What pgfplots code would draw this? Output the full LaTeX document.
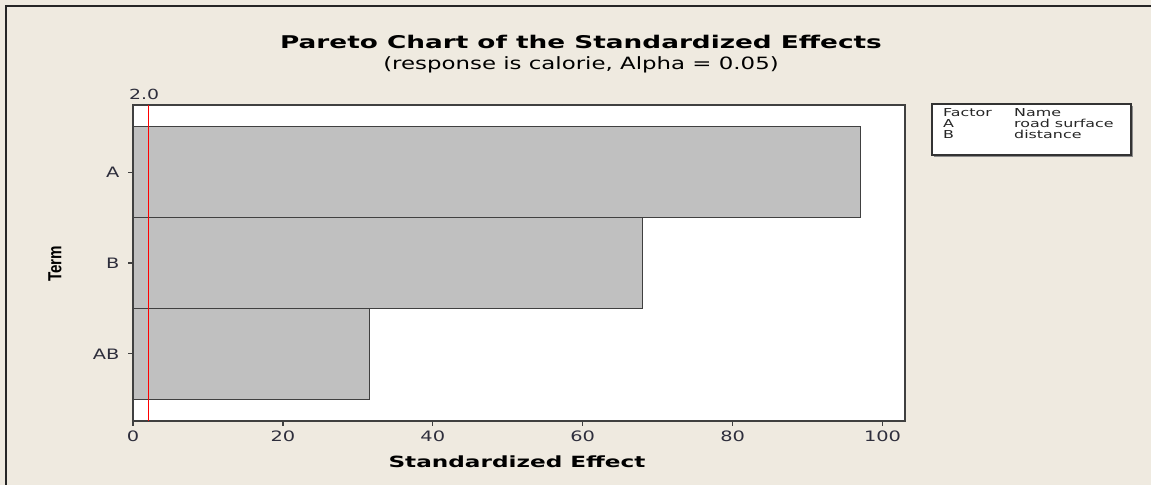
\documentclass[border=0pt]{standalone}
\usepackage{fontspec}
\setmainfont{DejaVu Sans}[FakeStretch=1.35]
\newfontfamily\bfam{DejaVu Sans}[FakeStretch=1.5]
\newfontfamily\legfam{DejaVu Sans}[FakeStretch=1.45]
\newfontfamily\termfont{Liberation Sans}
\usepackage{graphicx}
\usepackage{pgfplots}
\pgfplotsset{compat=1.18}
\definecolor{bg}{HTML}{EFEAE0}
\definecolor{barg}{HTML}{C0C0C0}
\definecolor{tickc}{HTML}{2E2E3C}
\begin{document}
\begin{tikzpicture}
\useasboundingbox (0,0) rectangle (1151bp,485bp);
\fill[bg] (-6bp,-6bp) rectangle (1160bp,492bp);
\draw[black!85, line width=2bp] (6bp,-3bp) -- (6bp,479bp);
\draw[black!85, line width=2bp] (5bp,479bp) -- (1140bp,479bp);
\fill[black!85] (1140bp,478bp) rectangle (1151bp,480bp);
\begin{axis}[
  at={(133bp,64bp)}, anchor=south west,
  scale only axis, width=772bp, height=316bp,
  xmin=0, xmax=103, ymin=-0.74, ymax=2.74,
  ytick={0,1,2}, yticklabels={AB,B,A},
  xtick={0,20,40,60,80,100},
  tick align=outside, xtick pos=bottom, ytick pos=left,
  major tick length=5bp,
  tick style={black!75, line width=1.2bp},
  axis background/.style={fill=white},
  axis line style={draw=black!75, line width=1.5bp},
  ticklabel style={font=\fontsize{14.4}{16}\selectfont, text=tickc},
  /pgf/number format/assume math mode=true,
  xticklabel style={yshift=-1bp},
  yticklabel style={xshift=-5bp},
  clip=false,
]
\addplot[xbar, bar width=1, bar shift=0, fill=barg, draw=black!75, line width=0.9bp] coordinates {
(97.1,2) (68.0,1) (31.5,0)
};
\addplot[red, line width=1.3bp, sharp plot] coordinates {(2.03,-0.74) (2.03,2.74)};
\node[anchor=south, inner sep=0pt, yshift=5bp, font=\fontsize{14}{15}\selectfont, text=tickc] at (axis cs:1.47,2.74) {2.0};
\end{axis}
\node[font=\fontsize{17.6}{20}\selectfont\bfam\bfseries] at (581bp,443bp) {Pareto Chart of the Standardized Effects};
\node[font=\fontsize{17}{19}\selectfont] at (581bp,420bp) {(response is calorie, Alpha = 0.05)};
\node[font=\fontsize{15.5}{17}\selectfont\bfam\bfseries] at (517bp,23bp) {Standardized Effect};
\node[rotate=90] at (55bp,221bp) {\scalebox{0.8}[1]{\fontsize{19}{21}\selectfont\termfont\bfseries Term}};
% factor box
\fill[black!45] (934bp,328bp) rectangle (1133bp,379bp);
\draw[black!80, line width=1.2bp, fill=white] (932bp,330bp) rectangle (1131bp,381bp);
\begin{scope}[every node/.style={anchor=base west, inner sep=0pt, font=\fontsize{11}{12}\selectfont\legfam, text=black!85}]
\node at (943bp,368bp) {Factor};
\node at (1014bp,368bp) {Name};
\node at (943bp,357bp) {A};
\node at (1014bp,357bp) {road surface};
\node at (943bp,346bp) {B};
\node at (1014bp,346bp) {distance};
\end{scope}
\end{tikzpicture}
\end{document}
